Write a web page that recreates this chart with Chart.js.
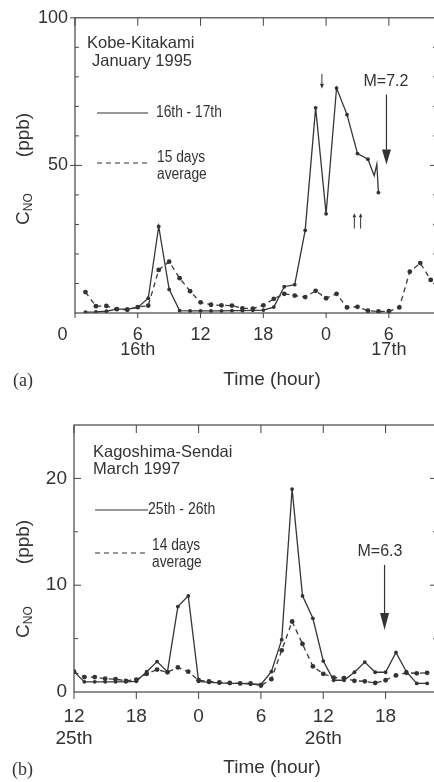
<!DOCTYPE html>
<html>
<head>
<meta charset="utf-8">
<title>NO concentration before the Kobe and Kagoshima earthquakes</title>
<script src="https://cdn.jsdelivr.net/npm/chart.js@4.4.1/dist/chart.umd.min.js"></script>
<style>
  html, body { margin: 0; padding: 0; background: #fff; overflow: hidden; width: 434px; height: 782px; }
  canvas { position: absolute; left: 0; }
  #chartA { top: 0; }
  #chartB { top: 400px; }
</style>
</head>
<body>
<canvas id="chartA" width="445" height="400"></canvas>
<canvas id="chartB" width="445" height="382"></canvas>
<script>
// (a) Kobe-Kitakami, January 1995 -- hours counted from 0:00 on the 16th
const hoursA = [1, 2, 3, 4, 5, 6, 7, 8, 9, 10, 11, 12, 13, 14, 15, 16, 17,
                18, 19, 20, 21, 22, 23, 24, 25, 26, 27, 28, 29, 30, 31, 32, 33, 34];
const avgA = [7.1, 2.3, 2.4, 1.3, 1.1, 2.0, 2.5, 14.6, 17.4, 11.8, 7.4, 3.6, 2.8, 2.6, 2.5, 1.6, 1.5,
              2.6, 4.8, 6.5, 5.9, 5.4, 7.5, 5.0, 6.5, 1.9, 2.1, 0.8, 0.5, 0.6, 1.9, 14.0, 16.9, 11.2];
// the 16th-17th record has two extra readings just before 5:00
const solidHoursA = [1, 2, 3, 4, 5, 6, 7, 8, 9, 10, 11, 12, 13, 14, 15, 16, 17, 18,
                     19, 20, 21, 22, 23, 24, 25, 26, 27, 28, 28.6, 28.85, 29];
const solidA = [0.3, 0.4, 0.6, 1.3, 1.3, 1.9, 5.0, 29.3, 8.0, 0.8, 0.7, 0.7, 0.7, 0.7, 0.8, 0.8, 0.9, 1.0,
                2.0, 8.9, 9.6, 28.0, 69.5, 33.6, 76.2, 67.2, 54.0, 52.1, 46.5, 50.4, 40.8];
const xTicksA = [0, 6, 12, 18, 24, 30];
// the first "0" sits left of the axis corner in the original
const xLabelsA = [['0     '], ['6', '16th'], ['12'], ['18'], ['0'], ['6', '17th']];
const yTicksA = [50, 100];
const quakeHourA = 29.77; // 5:46 on the 17th

// (b) Kagoshima-Sendai, March 1997 -- hours counted from 0:00 on the 25th
const hoursB = [12, 13, 14, 15, 16, 17, 18, 19, 20, 21, 22, 23, 24, 25, 26, 27, 28, 29,
                30, 31, 32, 33, 34, 35, 36, 37, 38, 39, 40, 41, 42, 43, 44, 45, 46];
const solidB = [1.9, 0.95, 0.95, 0.95, 0.95, 0.95, 1.0, 1.9, 2.85, 1.9, 8.0, 9.0, 1.0, 0.9, 0.85, 0.8, 0.8, 0.75,
                0.7, 1.9, 4.9, 19.0, 9.0, 6.9, 2.9, 1.1, 1.1, 1.85, 2.8, 1.85, 1.85, 3.7, 1.9, 0.8, 0.8];
const avgB = [1.9, 1.4, 1.4, 1.25, 1.2, 1.05, 1.15, 1.7, 2.1, 1.85, 2.3, 1.9, 1.1, 1.0, 0.9, 0.85, 0.8, 0.8,
              0.6, 1.2, 3.9, 6.6, 4.5, 2.4, 1.7, 1.35, 1.3, 1.05, 1.0, 0.85, 1.1, 1.55, 1.8, 1.75, 1.8];
const xTicksB = [12, 18, 24, 30, 36, 42];
const xLabelsB = [['12', '25th'], ['18'], ['0'], ['6'], ['12', '26th'], ['18']];
const yTicksB = [0, 10, 20];
const quakeHourB = 41.9;

const INK = '#333';
const FONT = '"Liberation Sans", Arial, sans-serif';
const SERIF = '"Liberation Serif", "Times New Roman", serif';

function text(ctx, str, x, y, size, opts = {}) {
    ctx.save();
    ctx.font = `${size}px ${opts.family || FONT}`;
    ctx.fillStyle = INK;
    ctx.textBaseline = 'middle';
    ctx.textAlign = opts.align || 'left';
    ctx.translate(x, y);
    if (opts.squeeze) ctx.scale(opts.squeeze, 1);
    ctx.fillText(str, 0, 0);
    ctx.restore();
}

function yTitle(ctx, x, cStart, ppbCenter) {
    ctx.save();
    ctx.fillStyle = INK;
    ctx.textBaseline = 'middle';
    ctx.translate(x, cStart);
    ctx.rotate(-Math.PI / 2);
    ctx.font = `19px ${FONT}`;
    ctx.fillText('C', 0, 0);
    const cw = ctx.measureText('C').width;
    ctx.font = `12px ${FONT}`;
    ctx.fillText('NO', cw, 5);
    ctx.restore();

    ctx.save();
    ctx.fillStyle = INK;
    ctx.textBaseline = 'middle';
    ctx.textAlign = 'center';
    ctx.translate(x, ppbCenter);
    ctx.rotate(-Math.PI / 2);
    ctx.font = `19px ${FONT}`;
    ctx.fillText('(ppb)', 0, 0);
    ctx.restore();
}

function arrow(ctx, x, y0, y1, headLen, headHalf) {
    // draws from y0 to y1, head at y1
    const dir = y1 > y0 ? 1 : -1;
    ctx.beginPath();
    ctx.moveTo(x, y0);
    ctx.lineTo(x, y1 - dir * headLen);
    ctx.stroke();
    ctx.beginPath();
    ctx.moveTo(x, y1);
    ctx.lineTo(x - headHalf, y1 - dir * headLen);
    ctx.lineTo(x + headHalf, y1 - dir * headLen);
    ctx.closePath();
    ctx.fill();
}

function drawFrame(chart, p) {
    const { ctx, chartArea: a } = chart;
    const x = chart.scales.x, y = chart.scales.y;
    ctx.save();
    ctx.strokeStyle = '#444';
    ctx.lineWidth = 1.2;
    ctx.strokeRect(a.left, a.top, a.right - a.left, a.bottom - a.top);
    ctx.lineWidth = 1;
    ctx.beginPath();
    p.xTicks.forEach(v => {
        const px = x.getPixelForValue(v);
        ctx.moveTo(px, a.top); ctx.lineTo(px, a.top + 8);
        ctx.moveTo(px, a.bottom); ctx.lineTo(px, a.bottom + p.xTickOut);
    });
    for (let v = p.yMinor; v < p.yMax; v += p.yMinor) {
        const py = y.getPixelForValue(v);
        const len = p.yTicks.includes(v) ? 7 : 4;
        ctx.moveTo(a.left, py); ctx.lineTo(a.left + len, py);
        ctx.moveTo(a.right, py); ctx.lineTo(a.right - len, py);
    }
    p.yTicks.forEach(v => {
        const py = y.getPixelForValue(v);
        ctx.moveTo(a.left - p.yTickOut, py); ctx.lineTo(a.left, py);
    });
    ctx.stroke();
    ctx.restore();
}

function legendLines(ctx, x0, x1, ySolid, yDash) {
    ctx.save();
    ctx.strokeStyle = INK;
    ctx.lineWidth = 1.2;
    ctx.beginPath();
    ctx.moveTo(x0, ySolid); ctx.lineTo(x1, ySolid);
    ctx.stroke();
    ctx.setLineDash([5, 4]);
    ctx.beginPath();
    ctx.moveTo(x0, yDash); ctx.lineTo(x1, yDash);
    ctx.stroke();
    ctx.restore();
}

const decorA = {
    id: 'decorA',
    afterDraw(chart) {
        const ctx = chart.ctx;
        const x = chart.scales.x, y = chart.scales.y;
        drawFrame(chart, { xTicks: xTicksA, yTicks: yTicksA, yMinor: 10, yMax: 100, xTickOut: 5, yTickOut: 5 });

        text(ctx, 'Kobe-Kitakami', 87, 43, 16.5);
        text(ctx, 'January 1995', 92, 61, 16.5);
        legendLines(ctx, 97, 148, 113, 163);
        text(ctx, '16th - 17th', 156, 113, 16, { squeeze: 0.86 });
        text(ctx, '15 days', 157, 158, 16, { squeeze: 0.86 });
        text(ctx, 'average', 157, 175, 16, { squeeze: 0.86 });

        ctx.save();
        ctx.strokeStyle = INK;
        ctx.fillStyle = INK;
        ctx.lineWidth = 1.2;
        const qx = x.getPixelForValue(quakeHourA);
        arrow(ctx, qx, y.getPixelForValue(74), y.getPixelForValue(50.3), 15, 4.5);
        ctx.lineWidth = 1;
        arrow(ctx, x.getPixelForValue(23.6), y.getPixelForValue(81), y.getPixelForValue(76), 5, 2);
        arrow(ctx, x.getPixelForValue(26.7), y.getPixelForValue(28.6), y.getPixelForValue(33.8), 4, 1.8);
        arrow(ctx, x.getPixelForValue(27.3), y.getPixelForValue(28.6), y.getPixelForValue(33.8), 4, 1.8);
        ctx.restore();
        text(ctx, 'M=7.2', 386, 82, 16, { align: 'center' });

        yTitle(ctx, 24, 225, 135);
        text(ctx, 'Time (hour)', 272, 380, 19, { align: 'center' });
        text(ctx, '(a)', 13, 381, 18, { family: SERIF });
    }
};

const decorB = {
    id: 'decorB',
    afterDraw(chart) {
        const ctx = chart.ctx;
        const x = chart.scales.x, y = chart.scales.y;
        drawFrame(chart, { xTicks: xTicksB, yTicks: yTicksB, yMinor: 5, yMax: 25, xTickOut: 7, yTickOut: 0 });

        text(ctx, 'Kagoshima-Sendai', 93, 52, 16.5);
        text(ctx, 'March 1997', 93, 69, 16.5);
        legendLines(ctx, 95, 148, 110, 153);
        text(ctx, '25th - 26th', 148, 110, 16, { squeeze: 0.88 });
        text(ctx, '14 days', 152, 146, 16, { squeeze: 0.86 });
        text(ctx, 'average', 152, 163, 16, { squeeze: 0.86 });

        ctx.save();
        ctx.strokeStyle = INK;
        ctx.fillStyle = INK;
        ctx.lineWidth = 1.2;
        arrow(ctx, x.getPixelForValue(quakeHourB), y.getPixelForValue(11.9), y.getPixelForValue(5.8), 17, 4.5);
        ctx.restore();
        text(ctx, 'M=6.3', 380, 152, 16, { align: 'center' });

        yTitle(ctx, 24, 238, 142);
        text(ctx, 'Time (hour)', 272, 368, 19, { align: 'center' });
        text(ctx, '(b)', 12, 370, 18, { family: SERIF });
    }
};

function makeOptions(p) {
    return {
        responsive: false,
        animation: false,
        events: [],
        layout: { padding: { top: p.padTop, right: 8, left: 0, bottom: 0 } },
        plugins: { legend: { display: false }, tooltip: { enabled: false } },
        scales: {
            x: {
                type: 'linear',
                min: p.xMin,
                max: p.xMax,
                grid: { display: false, drawTicks: false },
                border: { display: false },
                afterBuildTicks: s => { s.ticks = p.xTicks.map(v => ({ value: v })); },
                afterFit: s => { s.height = p.xHeight; },
                ticks: {
                    autoSkip: false,
                    maxRotation: 0,
                    padding: p.xPad,
                    color: INK,
                    font: { family: FONT, size: p.fontSize, lineHeight: p.xLineHeight },
                    callback: (v, i) => p.xLabels[i]
                }
            },
            y: {
                min: 0,
                max: p.yMax,
                grid: { display: false, drawTicks: false },
                border: { display: false },
                afterBuildTicks: s => { s.ticks = p.yTicks.map(v => ({ value: v })); },
                afterFit: s => { s.width = p.yWidth; },
                ticks: { padding: 7, color: INK, font: { family: FONT, size: p.fontSize } }
            }
        }
    };
}

const solidStyle = {
    borderColor: '#363636',
    borderWidth: 1.3,
    backgroundColor: '#333',
    pointBorderWidth: 0,
    tension: 0
};
const avgStyle = {
    borderColor: '#3a3a3a',
    borderWidth: 1.3,
    borderDash: [5, 4],
    backgroundColor: '#333',
    pointBorderWidth: 0,
    pointRadius: 2.4,
    tension: 0
};

new Chart(document.getElementById('chartA'), {
    type: 'line',
    data: {
        datasets: [
            Object.assign({
                label: '15 days average',
                data: hoursA.map((h, i) => ({ x: h, y: avgA[i] }))
            }, avgStyle),
            Object.assign({
                label: '16th - 17th',
                data: solidHoursA.map((h, i) => ({ x: h, y: solidA[i] })),
                pointRadius: ctx => Number.isInteger(solidHoursA[ctx.dataIndex]) ? 1.9 : 0
            }, solidStyle)
        ]
    },
    options: makeOptions({
        padTop: 16, xMin: 0, xMax: 34.6, xTicks: xTicksA, xLabels: xLabelsA,
        xHeight: 87, xPad: 15, xLineHeight: 0.8, yMax: 100, yTicks: yTicksA,
        yWidth: 75, fontSize: 18
    }),
    plugins: [decorA]
});

new Chart(document.getElementById('chartB'), {
    type: 'line',
    data: {
        datasets: [
            Object.assign({
                label: '14 days average',
                data: hoursB.map((h, i) => ({ x: h, y: avgB[i] }))
            }, avgStyle),
            Object.assign({
                label: '25th - 26th',
                data: hoursB.map((h, i) => ({ x: h, y: solidB[i] })),
                pointRadius: 1.9
            }, solidStyle)
        ]
    },
    options: makeOptions({
        padTop: 25, xMin: 12, xMax: 46.95, xTicks: xTicksB, xLabels: xLabelsB,
        xHeight: 90, xPad: 13, xLineHeight: 1.2, yMax: 25, yTicks: yTicksB,
        yWidth: 74, fontSize: 19
    }),
    plugins: [decorB]
});
</script>
</body>
</html>
